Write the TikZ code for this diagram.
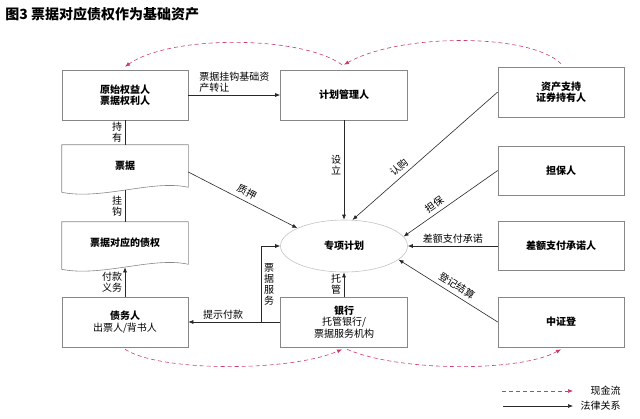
\documentclass[tikz,border=0pt]{standalone}
\usepackage{fontspec}
\setmainfont{Noto Sans CJK SC}
\usetikzlibrary{arrows.meta,calc,shapes.geometric}
\definecolor{boxgray}{RGB}{135,135,135}
\definecolor{cashred}{RGB}{204,58,110}
\definecolor{linkgray}{RGB}{40,40,40}
\definecolor{ellgray}{RGB}{195,195,195}

\begin{document}
\begin{tikzpicture}[x=1pt, y=-1pt, >={Latex[length=5pt,width=4pt]}, line width=0.6pt, font=\fontsize{10}{11.5}\selectfont]
\tikzset{
  party/.style={draw=boxgray, align=center, minimum width=126pt, minimum height=50pt, inner sep=2pt},
  docbox/.style={align=center, minimum width=126pt, minimum height=42pt, inner sep=2pt},
  planell/.style={ellipse, draw=ellgray, minimum width=127pt, minimum height=52pt, inner sep=0pt},
  legal/.style={draw=linkgray, ->},
  cashflow/.style={draw=cashred, dash pattern=on 4pt off 3pt, ->},
  lbl/.style={inner sep=2.5pt, align=center, font=\fontsize{10}{11}\selectfont},
  slbl/.style={lbl, sloped, above, inner sep=4pt}
}
\useasboundingbox (0,0) rectangle (640,418);

\node[anchor=west, inner sep=0pt, font=\bfseries\fontsize{14}{16}\selectfont] (title) at (5,14) {图3 票据对应债权作为基础资产};

% left column
\node[party] (orig) at (125,95) {\textbf{原始权益人}\\\textbf{票据权利人}};
\node[docbox] (bill) at (125,166) {\textbf{票据}};
\node[docbox] (claim) at (125,243) {\textbf{票据对应的债权}};
\node[party] (debtor) at (125,322) {\textbf{债务人}\\出票人/背书人};
\draw[boxgray] ([yshift=-5pt]bill.south west) -- (bill.north west) -- (bill.north east) -- (bill.south east)
  .. controls +(-35,-8) and +(40,8) .. ([yshift=-5pt]bill.south west);
\draw[boxgray] ([yshift=-5pt]claim.south west) -- (claim.north west) -- (claim.north east) -- (claim.south east)
  .. controls +(-35,-8) and +(40,8) .. ([yshift=-5pt]claim.south west);

% middle column
\node[party, minimum width=127pt] (mgr) at (344,95) {\textbf{计划管理人}};
\node[planell] (plan) at (344,246) {\textbf{专项计划}};
\node[party, minimum width=127pt] (bank) at (344,322) {\textbf{银行}\\托管银行/\\票据服务机构};

% right column
\node[party] (holder) at (561,92) {\textbf{资产支持}\\\textbf{证券持有人}};
\node[party, minimum height=49pt] (guar) at (561,170.5) {\textbf{担保人}};
\node[party, minimum height=49pt] (diff) at (561,246) {\textbf{差额支付承诺人}};
\node[party] (csdc) at (561,322) {\textbf{中证登}};

% legal relations
\draw[legal] (orig) -- node[lbl, above, align=left] (lbxfer) {票据挂钩基础资\\产转让} (mgr);
\draw[legal, -] (orig) -- node[lbl, left] (lbhold) {持\\有} (bill);
\draw[legal, -] ([yshift=-3pt]bill.south) -- node[lbl, left] (lbhook) {挂\\钩} (claim.north);
\draw[legal] (debtor) -- node[lbl, left] (lbpay) {付款\\义务} ([yshift=-3pt]claim.south);
\draw[legal] ([yshift=-6pt]bill.east) -- node[slbl] (lbpledge) {质押} (plan.159);
\draw[legal] (mgr) -- node[lbl, left, pos=0.45] (lbset) {设\\立} (plan);
\draw[legal] (holder.west) -- node[slbl, pos=0.64] (lbbuy) {认购} (plan.72);
\draw[legal] (guar.west) -- node[slbl, pos=0.62] (lbguar) {担保} (plan.9);
\draw[legal] (diff.west) -- node[lbl, above] (lbdiff) {差额支付承诺} (plan.east);
\draw[legal] (csdc.west) -- node[slbl, pos=0.46] (lbreg) {登记结算} (plan.-14);
\draw[legal] (bank) -- node[lbl, left] (lbcust) {托\\管} (plan);
\draw[legal] (bank.west) -- node[lbl, above, pos=0.62] (lbpresent) {提示付款} (debtor.east);
\draw[legal] (bank.west) -- ++(-19,0) coordinate (svc) |- node[lbl, right, pos=0.25] (lbsvc) {票\\据\\服\\务} (plan.west);

% cash flows
\draw[cashflow] ([xshift=-2pt,yshift=5pt]mgr.north) .. controls (300,35) and (170,35) .. ([yshift=3pt]orig.north);
\draw[cashflow] ([yshift=3pt]holder.north) .. controls (530,33) and (400,33) .. ([yshift=5pt]mgr.north);
\draw[cashflow] ([yshift=-2pt]debtor.south) .. controls (160,372) and (290,372) .. ([xshift=-2pt,yshift=-2pt]bank.south);
\draw[cashflow] ([xshift=3pt,yshift=-2pt]bank.south) .. controls (400,372) and (520,372) .. ([yshift=-2pt]csdc.south);

% legend
\node[anchor=east, inner sep=0pt] (lgcash) at (621,391) {现金流};
\node[anchor=east, inner sep=0pt] (lglaw) at (621,406) {法律关系};
\coordinate (cashA) at (502,391);
\coordinate (cashB) at (573,391);
\coordinate (lawA) at (503,406);
\coordinate (lawB) at (573,406);
\draw[cashflow] (cashA) -- (cashB);
\draw[legal] (lawA) -- (lawB);
\end{tikzpicture}
\end{document}
